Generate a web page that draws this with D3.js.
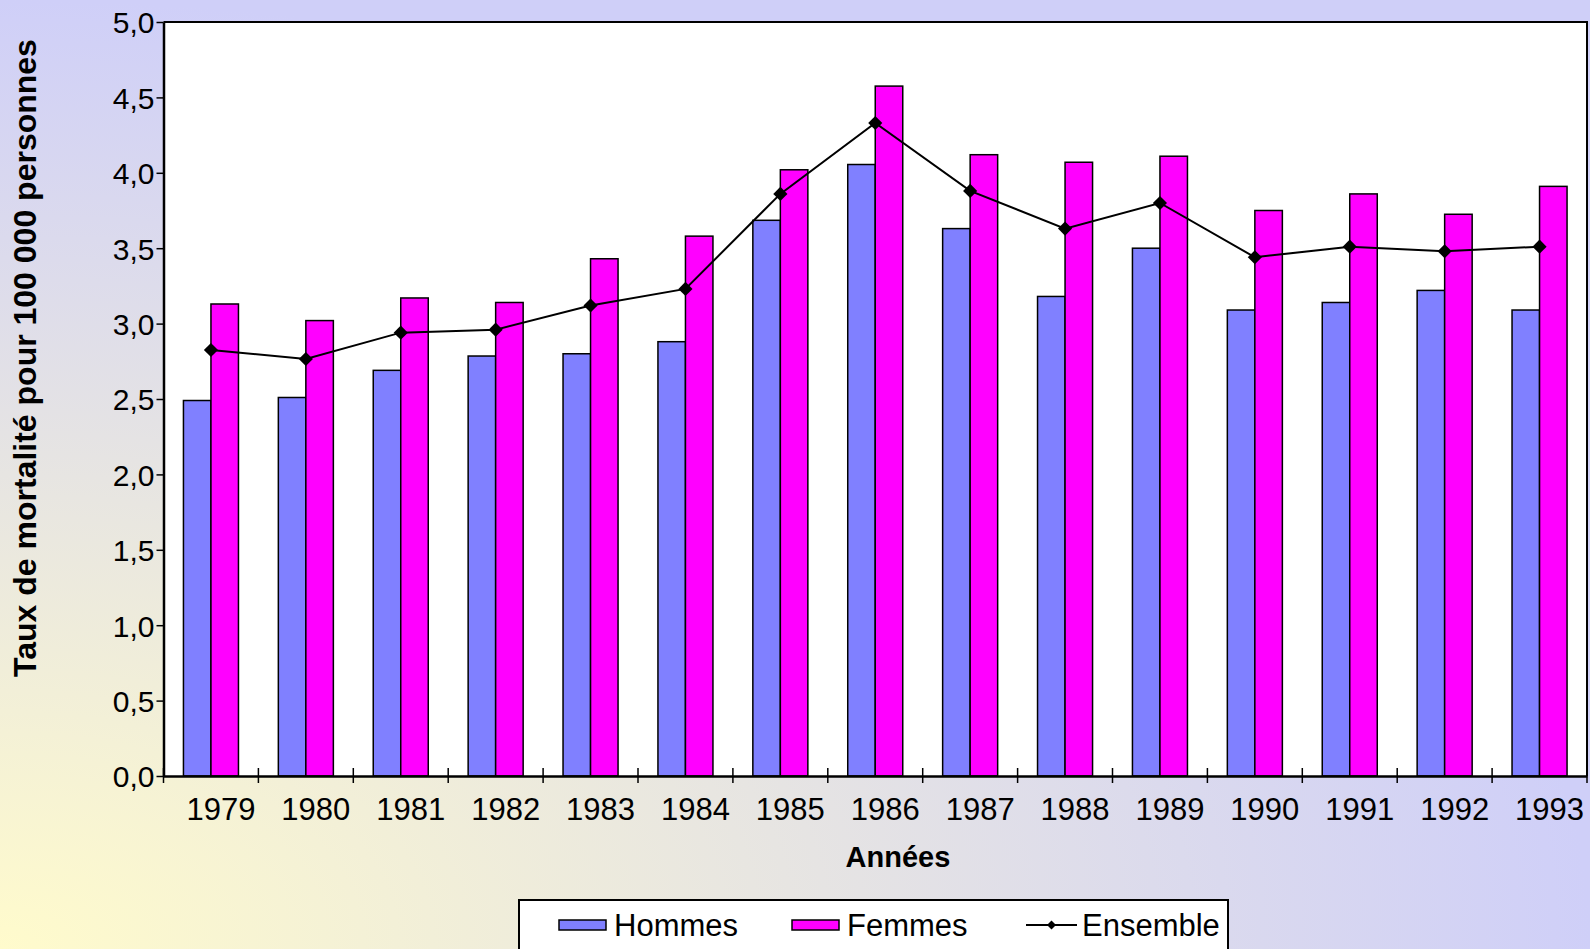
<!DOCTYPE html>
<html>
<head>
<meta charset="utf-8">
<script src="https://cdn.jsdelivr.net/npm/d3@7"></script>
<style>
  html, body { margin: 0; padding: 0; overflow: hidden; }
  svg { display: block; }
  text { font-family: "Liberation Sans", Arial, sans-serif; fill: #000; }
</style>
</head>
<body>
<svg id="chart" width="1590" height="949"></svg>
<script>
// ---- Data ----
const years = ["1979","1980","1981","1982","1983","1984","1985","1986","1987","1988","1989","1990","1991","1992","1993"];
const hommes   = [2.49, 2.51, 2.69, 2.785, 2.80, 2.88, 3.685, 4.055, 3.63, 3.18, 3.50, 3.09, 3.14, 3.22, 3.09];
const femmes   = [3.13, 3.02, 3.17, 3.14, 3.43, 3.58, 4.02, 4.575, 4.12, 4.07, 4.11, 3.75, 3.86, 3.725, 3.91];
const ensemble = [2.825, 2.765, 2.94, 2.96, 3.12, 3.23, 3.86, 4.33, 3.88, 3.63, 3.80, 3.44, 3.51, 3.48, 3.51];
const seriesNames = ["Hommes", "Femmes", "Ensemble"];
const yTicks = [0, 0.5, 1, 1.5, 2, 2.5, 3, 3.5, 4, 4.5, 5];
const yTitle = "Taux de mortalité pour 100 000 personnes";
const xTitle = "Années";

// ---- Layout ----
const W = 1590, H = 949;
const plot = { left: 163.5, top: 22, right: 1587, bottom: 776 };
const colors = { Hommes: "#8080FF", Femmes: "#FF00FF", Ensemble: "#000000" };

const svg = d3.select("#chart");

// background gradient
const defs = svg.append("defs");
const grad = defs.append("radialGradient")
  .attr("id", "bg").attr("cx", 0).attr("cy", 1).attr("r", 1)
  .attr("fx", 0).attr("fy", 1);
grad.append("stop").attr("offset", "0%").attr("stop-color", "#FFFBCC");
grad.append("stop").attr("offset", "100%").attr("stop-color", "#CFCFF8");
svg.append("rect").attr("width", W).attr("height", H).attr("fill", "url(#bg)");

// scales
const x0 = d3.scaleBand().domain(years).range([plot.left, plot.right]).paddingInner(0).paddingOuter(0);
const x1 = d3.scaleBand().domain(["Hommes", "Femmes"]).range([0, x0.bandwidth()]).paddingInner(0).paddingOuter(0.725);
const y = d3.scaleLinear().domain([0, 5]).range([plot.bottom, plot.top]);

// plot area
svg.append("rect")
  .attr("x", plot.left).attr("y", plot.top)
  .attr("width", plot.right - plot.left).attr("height", plot.bottom - plot.top)
  .attr("fill", "#fff");

// bars
const groups = svg.append("g").selectAll("g").data(years).join("g")
  .attr("transform", d => `translate(${x0(d)},0)`);
groups.append("rect")
  .attr("x", x1("Hommes")).attr("width", x1.bandwidth())
  .attr("y", (d, i) => y(hommes[i])).attr("height", (d, i) => y(0) - y(hommes[i]))
  .attr("fill", colors.Hommes).attr("stroke", "#000").attr("stroke-width", 1.5);
groups.append("rect")
  .attr("x", x1("Femmes")).attr("width", x1.bandwidth())
  .attr("y", (d, i) => y(femmes[i])).attr("height", (d, i) => y(0) - y(femmes[i]))
  .attr("fill", colors.Femmes).attr("stroke", "#000").attr("stroke-width", 1.5);

// line
const cx = d => x0(d) + x0.bandwidth() / 2;
const line = d3.line().x((d, i) => cx(years[i])).y(d => y(d));
svg.append("path").datum(ensemble)
  .attr("d", line).attr("fill", "none").attr("stroke", "#000").attr("stroke-width", 2);
const diamond = d3.symbol().type(d3.symbolSquare).size(100);
svg.append("g").selectAll("path").data(ensemble).join("path")
  .attr("d", diamond)
  .attr("transform", (d, i) => `translate(${cx(years[i])},${y(d)}) rotate(45)`)
  .attr("fill", "#000");

// plot border (top, right)
svg.append("path")
  .attr("d", `M${plot.left},${plot.top}H${plot.right}V${plot.bottom}`)
  .attr("fill", "none").attr("stroke", "#000").attr("stroke-width", 2);

// y axis
const fmt = d3.formatLocale({ decimal: ",", thousands: " ", grouping: [3], currency: ["", "€"] }).format(".1f");
const yAxis = svg.append("g")
  .attr("transform", `translate(${plot.left},0)`)
  .call(d3.axisLeft(y).tickValues(yTicks).tickFormat(fmt).tickSize(7).tickSizeOuter(0).tickPadding(2));
yAxis.select(".domain").attr("stroke-width", 2.5);
yAxis.selectAll(".tick line").attr("stroke-width", 1.5);
yAxis.selectAll(".tick text")
  .attr("font-size", 30).attr("font-family", "Liberation Sans, Arial, sans-serif")
  .attr("dy", "0.36em").attr("fill", "#000");

// x axis: labels
const xAxis = svg.append("g")
  .attr("transform", `translate(0,${plot.bottom})`)
  .call(d3.axisBottom(x0).tickSize(0).tickSizeOuter(0).tickPadding(0));
xAxis.select(".domain").attr("stroke-width", 2.5);
xAxis.selectAll(".tick text")
  .attr("font-size", 31).attr("font-family", "Liberation Sans, Arial, sans-serif")
  .attr("fill", "#000")
  .attr("x", 10).attr("y", 44).attr("dy", 0);
// x axis: boundary ticks crossing axis
const bounds = years.map(d => x0(d)).concat([x0.range()[1]]);
svg.append("g").selectAll("line").data(bounds).join("line")
  .attr("x1", d => d).attr("x2", d => d)
  .attr("y1", plot.bottom - 8).attr("y2", plot.bottom + 7)
  .attr("stroke", "#000").attr("stroke-width", 1.5);

// axis titles
svg.append("text")
  .attr("transform", `translate(36,358) rotate(-90)`)
  .attr("text-anchor", "middle")
  .attr("font-size", 32).attr("font-weight", "bold")
  .text(yTitle);
svg.append("text")
  .attr("x", 898).attr("y", 867)
  .attr("text-anchor", "middle")
  .attr("font-size", 29).attr("font-weight", "bold")
  .text(xTitle);

// legend
const lg = svg.append("g");
lg.append("rect").attr("x", 519).attr("y", 900).attr("width", 709).attr("height", 70)
  .attr("fill", "#fff").attr("stroke", "#000").attr("stroke-width", 2);
const legendItems = [
  { name: seriesNames[0], sx: 559, tx: 614 },
  { name: seriesNames[1], sx: 792, tx: 847 },
  { name: seriesNames[2], sx: 1026, tx: 1082 }
];
legendItems.forEach(it => {
  if (it.name === "Ensemble") {
    lg.append("line").attr("x1", it.sx).attr("x2", it.sx + 51)
      .attr("y1", 925).attr("y2", 925).attr("stroke", "#000").attr("stroke-width", 2);
    lg.append("path").attr("d", d3.symbol().type(d3.symbolSquare).size(40)())
      .attr("transform", `translate(${it.sx + 25.5},925) rotate(45)`).attr("fill", "#000");
  } else {
    lg.append("rect").attr("x", it.sx).attr("y", 920).attr("width", 47).attr("height", 10)
      .attr("fill", colors[it.name]).attr("stroke", "#000").attr("stroke-width", 1.5);
  }
  lg.append("text").attr("x", it.tx).attr("y", 936)
    .attr("font-size", 31).text(it.name);
});
</script>
</body>
</html>
